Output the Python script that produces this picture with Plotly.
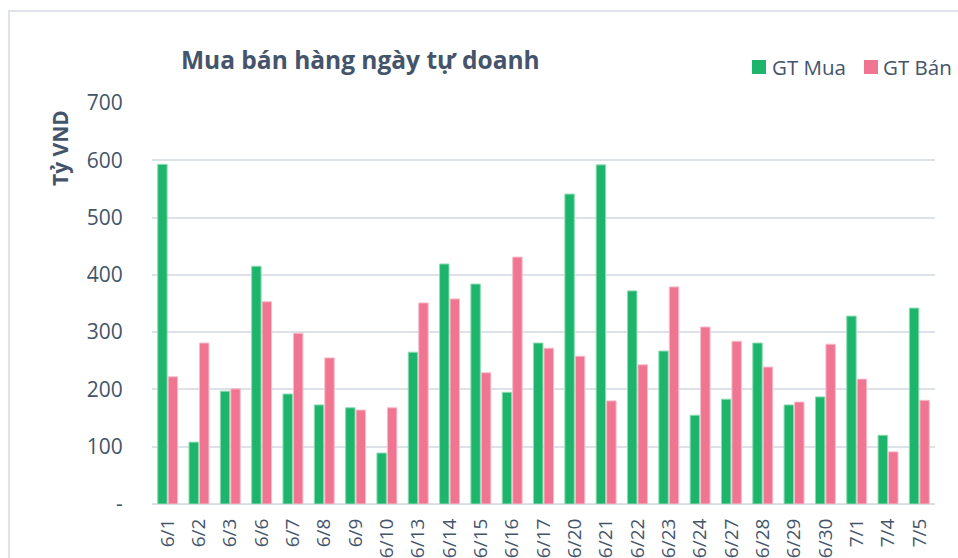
import plotly.graph_objects as go

categories = ["6/1", "6/2", "6/3", "6/6", "6/7", "6/8", "6/9", "6/10", "6/13", "6/14",
              "6/15", "6/16", "6/17", "6/20", "6/21", "6/22", "6/23", "6/24", "6/27",
              "6/28", "6/29", "6/30", "7/1", "7/4", "7/5"]
gt_mua = [593, 108, 197, 415, 192, 173, 168, 89, 265, 419,
          384, 195, 281, 541, 592, 372, 267, 155, 183,
          281, 173, 187, 328, 120, 342]
gt_ban = [222, 281, 201, 353, 298, 255, 164, 168, 351, 358,
          229, 431, 272, 258, 180, 243, 379, 309, 284,
          239, 178, 279, 218, 91, 181]
y_tickvals = [0, 100, 200, 300, 400, 500, 600, 700]
y_ticktext = ["-", "100", "200", "300", "400", "500", "600", "700"]

TEXT = "#44546a"
FONT = "Open Sans"
GREEN = "#1db56c"
PINK = "#ef7591"

fig = go.Figure()
fig.add_bar(x=categories, y=gt_mua, name="GT Mua",
            marker=dict(color=GREEN, line=dict(color="#8fdcb4", width=1)))
fig.add_bar(x=categories, y=gt_ban, name="GT Bán",
            marker=dict(color=PINK, line=dict(color="#f8bccb", width=1)))

# body margin is removed in the page, so figure coords = screen coords
OFF = 0
W, H = 958, 558
L, R, T, B = 152, 23, 103, 54
pw, ph = W - L - R, H - T - B

def px_x(p):
    return (p - OFF - L) / pw

def px_y(p):
    return (H - B - (p - OFF)) / ph

annotations = [
    dict(text="<b>Mua bán hàng ngày tự doanh</b>", xref="paper", yref="paper",
         x=px_x(179), y=px_y(60), xanchor="left", yanchor="middle",
         showarrow=False, font=dict(size=24.5, color=TEXT, family=FONT)),
    dict(text="<b>Tỷ VND</b>", xref="paper", yref="paper",
         x=px_x(60), y=px_y(148), xanchor="center", yanchor="middle",
         textangle=-90, showarrow=False, font=dict(size=21, color=TEXT, family=FONT)),
]
shapes = [
    dict(type="rect", xref="paper", yref="paper",
         x0=px_x(9), x1=px_x(975), y0=px_y(580), y1=px_y(11),
         line=dict(color="#dfe2e8", width=2), fillcolor="rgba(0,0,0,0)", layer="below"),
]
# legend drawn as keys + labels
for name, color, sx, tx in [("GT Mua", GREEN, 752, 770), ("GT Bán", PINK, 864, 881)]:
    shapes.append(dict(type="rect", xref="paper", yref="paper",
                       x0=px_x(sx), x1=px_x(sx + 14), y0=px_y(74), y1=px_y(60),
                       line=dict(width=0), fillcolor=color))
    annotations.append(dict(text=name, xref="paper", yref="paper",
                            x=px_x(tx), y=px_y(67), xanchor="left", yanchor="middle",
                            showarrow=False, font=dict(size=20.5, color=TEXT, family=FONT)))

fig.update_layout(
    width=W, height=H,
    margin=dict(l=L, r=R, t=T, b=B, pad=0, autoexpand=False),
    paper_bgcolor="white", plot_bgcolor="white",
    barmode="group", bargap=0.33, bargroupgap=0.1,
    font=dict(family=FONT, color=TEXT, size=20),
    showlegend=False,
    xaxis=dict(type="category", tickangle=-90, tickfont=dict(size=19, color=TEXT),
               showline=True, linecolor="#d9dde5", linewidth=1, showgrid=False,
               ticks="outside", ticklen=6, tickcolor="rgba(0,0,0,0)", fixedrange=True,
               automargin=False),
    yaxis=dict(range=[0, 700], tickvals=y_tickvals, ticktext=y_ticktext,
               tickfont=dict(size=21, color=TEXT), showgrid=True,
               gridcolor="#dde1e8", gridwidth=1.5, zeroline=True,
               zerolinecolor="#dde1e8", zerolinewidth=1.5, ticks="outside",
               ticklen=24, tickcolor="rgba(0,0,0,0)", automargin=False),
    annotations=annotations,
    shapes=shapes,
)

fig.write_html("out.html", config={"displayModeBar": False},
               post_script="document.body.style.margin='0';document.body.style.overflow='hidden';")
